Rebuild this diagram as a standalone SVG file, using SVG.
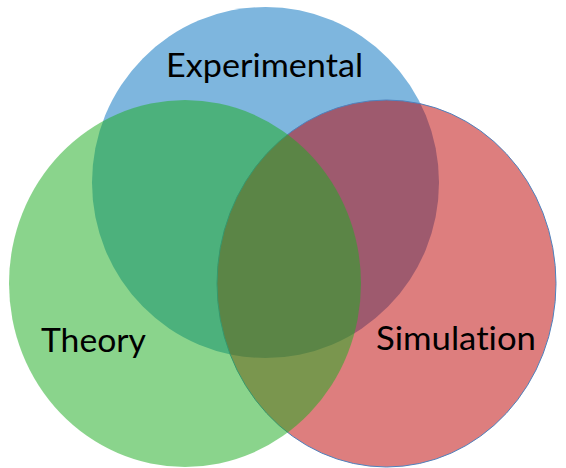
<svg xmlns="http://www.w3.org/2000/svg" width="566" height="468" viewBox="0 0 566 468">
  <style>
    .lbl { font-family: Lato, "Open Sans", "Liberation Sans", sans-serif; font-size: 32px; fill: #000000; font-variant-ligatures: none; }
  </style>
  <rect x="0" y="0" width="566" height="468" fill="#ffffff"/>
  <g id="experimental">
    <ellipse cx="265.5" cy="182.5" rx="173.5" ry="175.5" fill="rgb(126,182,222)"/>
    <text class="lbl" x="166" y="76.7" textLength="197" lengthAdjust="spacingAndGlyphs">Experimental</text>
  </g>
  <g id="simulation">
    <ellipse cx="386.5" cy="283.5" rx="169.5" ry="183.5" fill="rgb(189,4,4)" fill-opacity="0.515" stroke="#4F81BD" stroke-width="1"/>
    <text class="lbl" x="376" y="350" textLength="160" lengthAdjust="spacingAndGlyphs">Simulation</text>
  </g>
  <g id="theory">
    <ellipse cx="185" cy="283.5" rx="176" ry="183.5" fill="rgb(30,172,34)" fill-opacity="0.52"/>
    <text class="lbl" x="41" y="351.7" textLength="105" lengthAdjust="spacingAndGlyphs">Theory</text>
  </g>
  <g id="connectors"></g>
</svg>
